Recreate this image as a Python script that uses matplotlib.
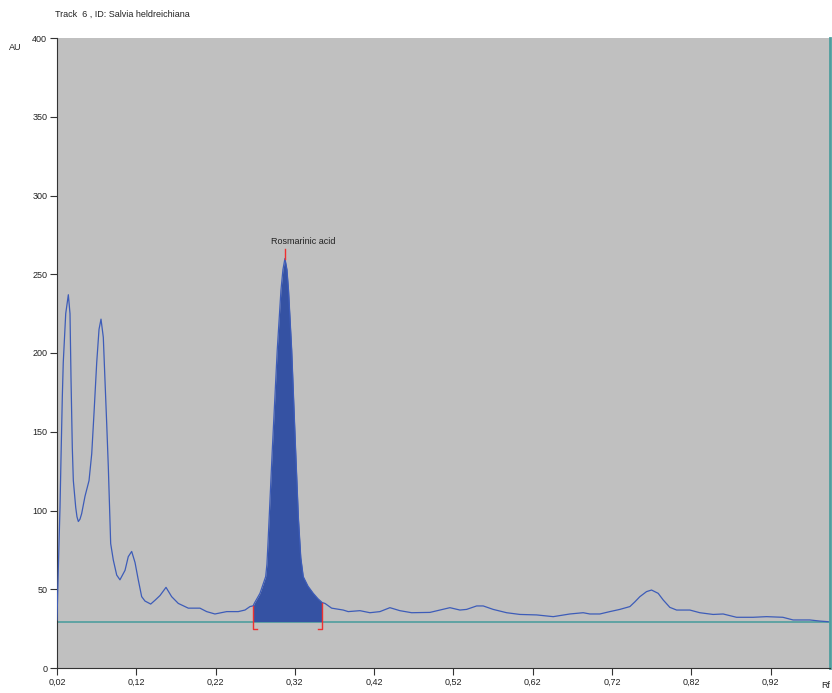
import numpy as np
import matplotlib.pyplot as plt

plt.rcParams['font.family'] = ['Liberation Sans', 'DejaVu Sans']

# densitogram of track 6, Rf vs absorbance (AU)
rf = [0.020, 0.0216, 0.0238, 0.025, 0.0267, 0.0279, 0.031, 0.0343, 0.0364, 0.0377,
      0.0393, 0.0406, 0.0436, 0.0452, 0.0469, 0.049, 0.0511, 0.0553, 0.0604, 0.0638,
      0.0667, 0.0701, 0.073, 0.0755, 0.0784, 0.0805, 0.0827, 0.0847, 0.0877, 0.091,
      0.0953, 0.0994, 0.1058, 0.1099, 0.1142, 0.1184, 0.1225, 0.1268, 0.131, 0.1382,
      0.1436, 0.1499, 0.1575, 0.1646, 0.173, 0.1856, 0.2003, 0.2088, 0.2192, 0.234,
      0.2486, 0.2571, 0.2634, 0.2675, 0.2688, 0.276, 0.2832, 0.2848, 0.2862, 0.2885,
      0.2915, 0.2978, 0.3025, 0.305, 0.3075, 0.310, 0.312, 0.316, 0.321, 0.3245,
      0.3275, 0.3306, 0.3365, 0.3432, 0.3491, 0.3546, 0.358, 0.3664, 0.381, 0.3873,
      0.4021, 0.4147, 0.4273, 0.4399, 0.4525, 0.4673, 0.4904, 0.503, 0.5156, 0.5282,
      0.5366, 0.5493, 0.5576, 0.5702, 0.5871, 0.6039, 0.6249, 0.6459, 0.6669, 0.6837,
      0.6921, 0.7047, 0.7173, 0.7299, 0.7426, 0.7489, 0.7552, 0.7636, 0.7699, 0.7783,
      0.7846, 0.793, 0.8015, 0.8182, 0.8308, 0.8476, 0.8602, 0.8771, 0.898, 0.915,
      0.9355, 0.9485, 0.9696, 0.9822, 0.9926]
au = [30.5, 62, 102, 132, 172, 194, 225, 237, 225, 183,
      140, 119, 102, 96, 93, 94.5, 98, 109, 119, 136,
      162, 194, 215, 221.5, 210, 183, 155, 128, 79, 68.6,
      59, 56, 62, 70.7, 74, 67, 56, 45.3, 42.5, 40.6,
      43, 46, 51.2, 45.3, 41, 38, 38, 35.8, 34.3, 35.8,
      35.8, 36.8, 39, 39.5, 41, 47.4, 58, 66, 80, 105,
      138, 202, 240, 253, 260, 253, 240, 202, 138, 95,
      70, 58, 52, 47.4, 44, 41.5, 41, 38, 36.8, 35.8,
      36.4, 35.1, 35.8, 38.3, 36.4, 35.1, 35.3, 36.8, 38.3, 36.8,
      37.2, 39.4, 39.4, 37.2, 35.1, 34, 33.7, 32.6, 34.3, 35.1,
      34.3, 34.3, 35.8, 37.2, 39, 42, 45.3, 48.5, 49.5, 47.4,
      43.2, 38.5, 36.8, 36.8, 35.1, 34, 34.3, 32.2, 32.2, 32.6,
      32.2, 30.5, 30.5, 29.8, 29.4]

baseline = 29.5
peak_start, peak_end = 0.2675, 0.3546
peak_rf, peak_au = 0.3075, 260
peak_name = 'Rosmarinic acid'

xticks = [0.02, 0.12, 0.22, 0.32, 0.42, 0.52, 0.62, 0.72, 0.82, 0.92]
yticks = [0, 50, 100, 150, 200, 250, 300, 350, 400]

rf = np.array(rf)
au = np.array(au)

fig = plt.figure(figsize=(8.32, 6.93), dpi=100)
ax = fig.add_axes([57/832, 1 - 668/693, 773/832, 630/693])
ax.set_facecolor('#c0c0c0')

ax.axhline(baseline, color='#4e9e9e', lw=1.2, zorder=2)
sel = (rf >= peak_start) & (rf <= peak_end)
ax.fill_between(rf[sel], au[sel], baseline, color='#3552a3', lw=0, zorder=3)
ax.plot(rf, au, color='#3d5cb8', lw=0.9, zorder=4)

# integration brackets and peak marker
red = '#ee3030'
for xb, stub in [(peak_start, 0.005), (peak_end, -0.005)]:
    top = au[np.argmin(abs(rf - xb))]
    ax.plot([xb, xb, xb + stub], [top, 24.8, 24.8], color=red, lw=1, zorder=5)
ax.plot([peak_rf, peak_rf], [peak_au, peak_au + 6], color=red, lw=1, zorder=5)
ax.text(0.2899, 271, peak_name, fontsize=6.5, ha='left', va='center', color='#222222')

ax.set_xlim(0.02, 0.995)
ax.set_ylim(0, 400)
ax.set_xticks(xticks)
ax.set_xticklabels([('%.2f' % t).replace('.', ',') for t in xticks])
ax.set_yticks(yticks)
ax.tick_params(labelsize=6.5, length=5, width=0.8, color='#333333', labelcolor='#222222', pad=2)

ax.spines['top'].set_visible(False)
ax.spines['right'].set_color('#4e9e9e')
ax.spines['right'].set_linewidth(2)
ax.spines['left'].set_color('#333333')
ax.spines['bottom'].set_color('#333333')

fig.text(55/832, 1 - 14/693, 'Track  6 , ID: Salvia heldreichiana', fontsize=6.5, va='center', color='#222222')
fig.text(9/832, 1 - 47/693, 'AU', fontsize=6.5, va='center', color='#222222')
fig.text(821/832, 1 - 686/693, 'Rf', fontsize=6.5, va='center', color='#222222')

fig.savefig('out.png', dpi=100)
